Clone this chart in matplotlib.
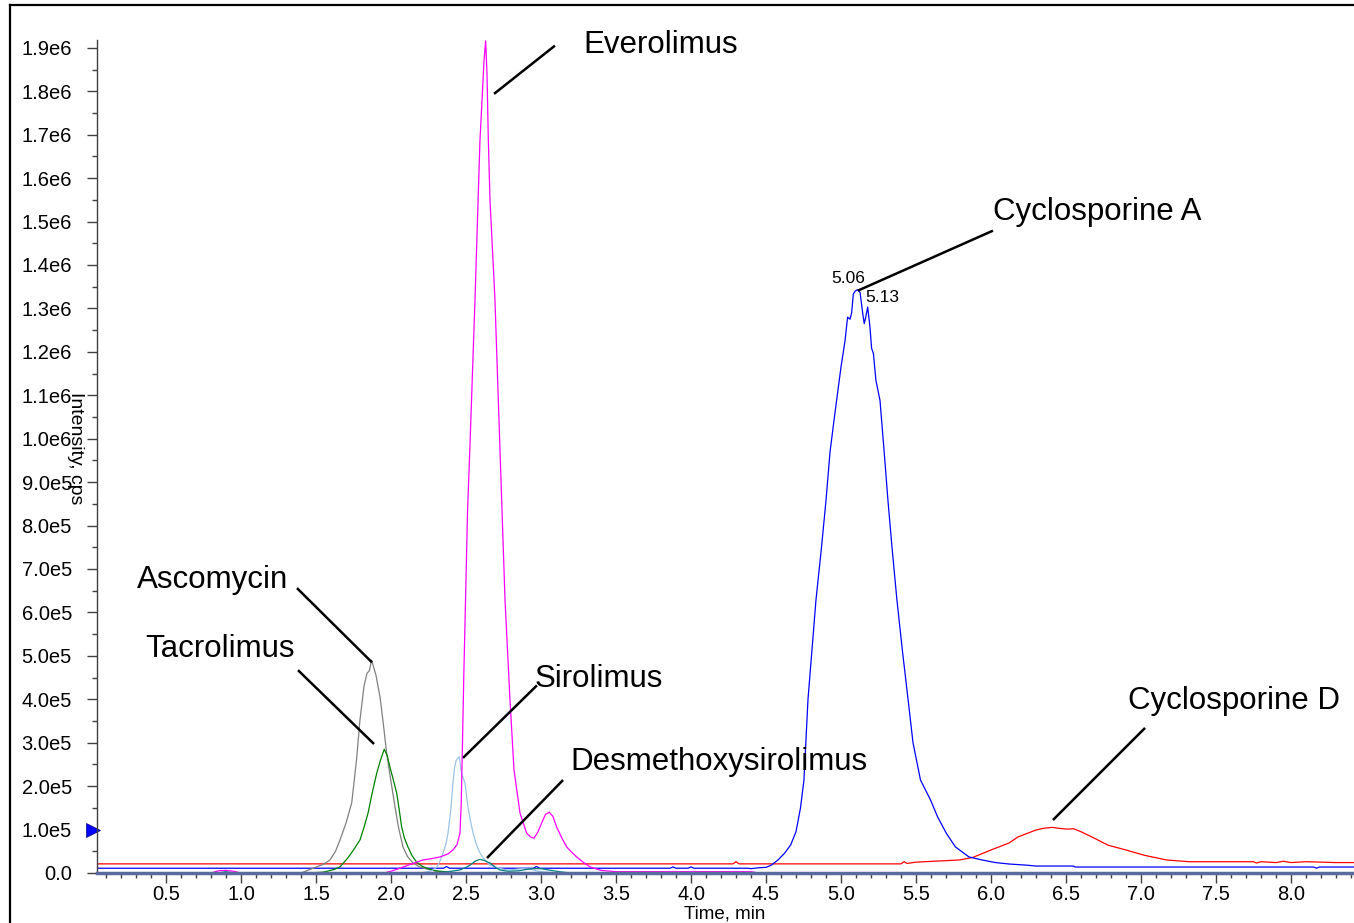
import matplotlib
matplotlib.use("Agg")
import matplotlib.pyplot as plt
from matplotlib.lines import Line2D
from matplotlib.ticker import FixedLocator, MultipleLocator

plt.rcParams['font.family'] = ['Liberation Sans', 'DejaVu Sans']

# ---------------- data ----------------
ascomycin_t = [0.04, 1.40, 1.48, 1.55, 1.593, 1.63, 1.66, 1.70, 1.738, 1.77, 1.793, 1.82, 1.84,
               1.855, 1.871, 1.90, 1.927, 1.95, 1.971, 2.0, 2.027, 2.05, 2.08, 2.11, 2.147,
               2.19, 2.24, 2.30, 2.40, 8.42]
ascomycin_i = [0, 0, 1.1e4, 2.0e4, 3.0e4, 5.0e4, 7.6e4, 1.15e5, 1.61e5, 2.6e5, 3.52e5, 4.3e5, 4.6e5,
               4.65e5, 4.9e5, 4.55e5, 4.05e5, 3.4e5, 2.76e5, 2.1e5, 1.52e5, 1.05e5, 0.6e5, 3.8e4, 2.3e4,
               1.4e4, 0.9e4, 4e3, 0, 0]

tacrolimus_t = [0.04, 1.45, 1.55, 1.62, 1.66, 1.713, 1.75, 1.793, 1.82, 1.847, 1.875, 1.905, 1.93,
                1.955, 1.975, 1.993, 2.015, 2.038, 2.055, 2.071, 2.09, 2.113, 2.14, 2.171, 2.205,
                2.24, 2.30, 2.45, 8.42]
tacrolimus_i = [0, 0, 2e3, 8e3, 1.4e4, 3.5e4, 5.3e4, 7.6e4, 1.05e5, 1.38e5, 1.85e5, 2.3e5, 2.6e5,
                2.85e5, 2.7e5, 2.44e5, 2.15e5, 1.84e5, 1.45e5, 1.06e5, 0.8e5, 0.6e5, 4e4, 2.5e4, 1.6e4,
                1.1e4, 5e3, 0, 0]

sirolimus_t = [0.04, 2.20, 2.27, 2.307, 2.33, 2.347, 2.365, 2.38, 2.40, 2.413, 2.425, 2.435, 2.455,
               2.47, 2.493, 2.513, 2.53, 2.547, 2.57, 2.593, 2.625, 2.66, 2.72, 2.773, 2.82, 2.87,
               2.93, 2.98, 3.1, 8.42]
sirolimus_i = [0, 0, 5e3, 1.4e4, 3e4, 4.6e4, 6.5e4, 9.2e4, 1.5e5, 2.07e5, 2.45e5, 2.6e5, 2.68e5,
               2.3e5, 2.07e5, 1.52e5, 1.2e5, 0.92e5, 0.65e5, 4.6e4, 3e4, 1.8e4, 1.1e4, 7e3, 8e3, 1e4,
               9e3, 4e3, 0, 0]

everolimus_t = [0.04, 0.80, 0.85, 0.90, 0.95, 1.00, 1.95, 2.0, 2.06, 2.13, 2.213, 2.27, 2.327, 2.38,
                2.413, 2.44, 2.46, 2.468, 2.476, 2.485, 2.497, 2.51, 2.527, 2.56, 2.593, 2.607, 2.62,
                2.631, 2.64, 2.649, 2.66, 2.693, 2.727, 2.76, 2.793, 2.82, 2.86, 2.904, 2.93, 2.953,
                2.98, 3.004, 3.03, 3.055, 3.08, 3.104, 3.14, 3.171, 3.21, 3.238, 3.28, 3.327, 3.40,
                3.50, 4.40, 4.45, 8.42]
everolimus_i = [0, 0, 5e3, 6e3, 4e3, 0, 0, 4e3, 1.1e4, 2e4, 3e4, 3.3e4, 3.7e4, 4.4e4,
                5.3e4, 6.5e4, 9.2e4, 1.6e5, 2.9e5, 4.5e5, 6.3e5, 8.3e5, 9.9e5, 1.32e6, 1.686e6, 1.78e6, 1.87e6,
                1.916e6, 1.84e6, 1.686e6, 1.55e6, 1.32e6, 9.7e5, 6.3e5, 4.0e5, 2.37e5, 1.38e5, 0.92e5, 0.83e5, 0.8e5,
                0.95e5, 1.15e5, 1.35e5, 1.4e5, 1.3e5, 1.06e5, 0.8e5, 0.6e5, 4.6e4, 3.7e4, 2.5e4, 1.4e4, 6e3,
                3e3, 3e3, 0, 0]

desmethoxy_t = [0.04, 0.85, 0.90, 0.95, 2.30, 2.38, 2.42, 2.46, 2.50, 2.527, 2.56, 2.593, 2.62, 2.66,
                2.70, 2.727, 2.78, 2.85, 2.90, 2.95, 3.0, 3.05, 3.12, 3.20, 8.42]
desmethoxy_i = [0, 0, 3e3, 0, 0, 3e3, 5e3, 7e3, 1.3e4, 1.8e4, 2.7e4, 3.15e4, 2.9e4, 2.3e4,
                1.2e4, 7e3, 4e3, 5e3, 8e3, 1e4, 1e4, 7e3, 3e3, 0, 0]

cyclosporineA_t = [0.04, 2.35, 2.37, 2.39, 2.95, 2.97, 2.99, 3.86, 3.88, 3.90, 3.98, 4.0, 4.02, 4.38,
                   4.40, 4.45, 4.50, 4.535, 4.58, 4.625, 4.665, 4.70, 4.73, 4.753, 4.78, 4.833, 4.87,
                   4.90, 4.927, 4.96, 5.0, 5.027, 5.044, 5.06, 5.071, 5.082, 5.095, 5.109, 5.127, 5.145,
                   5.155, 5.165, 5.178, 5.193, 5.204, 5.216, 5.233, 5.26, 5.287, 5.313, 5.34, 5.373,
                   5.41, 5.447, 5.48, 5.53, 5.597, 5.643, 5.703, 5.763, 5.853, 5.94, 6.03, 6.12, 6.24,
                   6.30, 6.55, 6.56, 8.15, 8.17, 8.19, 8.42]
cyclosporineA_i = [1.1e4, 1.1e4, 1.5e4, 1.1e4, 1.1e4, 1.5e4, 1.1e4, 1.1e4, 1.4e4, 1.1e4, 1.1e4, 1.4e4, 1.1e4, 1.1e4,
                   1.0e4, 1.2e4, 1.3e4, 1.8e4, 3e4, 4.6e4, 6.5e4, 0.95e5, 1.5e5, 2.14e5, 4.0e5, 6.28e5, 7.5e5,
                   8.58e5, 9.7e5, 1.06e6, 1.165e6, 1.226e6, 1.28e6, 1.275e6, 1.29e6, 1.333e6, 1.34e6, 1.343e6, 1.337e6, 1.288e6,
                   1.265e6, 1.28e6, 1.303e6, 1.257e6, 1.208e6, 1.196e6, 1.134e6, 1.088e6, 9.73e5, 8.58e5, 7.5e5, 6.28e5,
                   5.1e5, 4.0e5, 3.0e5, 2.14e5, 1.68e5, 1.3e5, 0.91e5, 0.6e5, 0.37e5, 0.3e5, 2.4e4, 2.07e4, 1.8e4,
                   1.6e4, 1.6e4, 1.38e4, 1.38e4, 1.1e4, 1.38e4, 1.38e4]

cyclosporineD_t = [0.04, 4.28, 4.30, 4.32, 5.40, 5.42, 5.44, 5.50, 5.79, 5.88, 6.0, 6.12, 6.18, 6.3,
                   6.35, 6.41, 6.45, 6.51, 6.55, 6.6, 6.69, 6.78, 6.9, 7.02, 7.17, 7.32, 7.5, 7.75, 7.77,
                   7.80, 7.9, 7.95, 8.0, 8.1, 8.3, 8.42]
cyclosporineD_i = [2.1e4, 2.1e4, 2.6e4, 2.1e4, 2.1e4, 2.6e4, 2.2e4, 2.5e4, 3.0e4, 3.6e4, 5.3e4, 6.9e4, 8.3e4, 9.9e4,
                   1.03e5, 1.05e5, 1.03e5, 1.01e5, 1.02e5, 0.95e5, 0.8e5, 0.64e5, 0.53e5, 0.41e5, 0.3e5, 2.6e4, 2.6e4, 2.6e4, 2.3e4,
                   2.6e4, 2.4e4, 2.7e4, 2.4e4, 2.6e4, 2.4e4, 2.4e4]

compound_names = ["Ascomycin", "Tacrolimus", "Sirolimus", "Everolimus",
                  "Desmethoxysirolimus", "Cyclosporine A", "Cyclosporine D"]

x_ticks = [0.5, 1.0, 1.5, 2.0, 2.5, 3.0, 3.5, 4.0, 4.5, 5.0, 5.5, 6.0, 6.5, 7.0, 7.5, 8.0]
x_tick_labels = ["0.5", "1.0", "1.5", "2.0", "2.5", "3.0", "3.5", "4.0", "4.5", "5.0",
                 "5.5", "6.0", "6.5", "7.0", "7.5", "8.0"]
y_ticks = [0, 1e5, 2e5, 3e5, 4e5, 5e5, 6e5, 7e5, 8e5, 9e5, 1.0e6, 1.1e6, 1.2e6, 1.3e6,
           1.4e6, 1.5e6, 1.6e6, 1.7e6, 1.8e6, 1.9e6]
y_tick_labels = ["0.0", "1.0e5", "2.0e5", "3.0e5", "4.0e5", "5.0e5", "6.0e5", "7.0e5", "8.0e5",
                 "9.0e5", "1.0e6", "1.1e6", "1.2e6", "1.3e6", "1.4e6", "1.5e6", "1.6e6", "1.7e6",
                 "1.8e6", "1.9e6"]

peak_rt_labels = ["5.06", "5.13"]

# ---------------- figure ----------------
W, H = 1354, 923
fig = plt.figure(figsize=(W / 100, H / 100), dpi=100)
ax = fig.add_axes([97 / W, 50 / H, (W - 97) / W, 833 / H])

traces = [
    (cyclosporineD_t, cyclosporineD_i, "#ff0000"),
    (cyclosporineA_t, cyclosporineA_i, "#0000ff"),
    (ascomycin_t, ascomycin_i, "#808080"),
    (tacrolimus_t, tacrolimus_i, "#008000"),
    (sirolimus_t, sirolimus_i, "#9cc3e6"),
    (everolimus_t, everolimus_i, "#ff00ff"),
    (desmethoxy_t, desmethoxy_i, "#008080"),
]
for t, i, c in traces:
    ax.plot(t, i, color=c, lw=0.9, solid_joinstyle="round")

ax.set_xlim(0.04, 8.42)
ax.set_ylim(0, 1.918e6)

ax.xaxis.set_major_locator(FixedLocator(x_ticks))
ax.set_xticklabels(x_tick_labels)
ax.xaxis.set_minor_locator(MultipleLocator(0.1))
ax.yaxis.set_major_locator(FixedLocator(y_ticks))
ax.set_yticklabels(y_tick_labels)
ax.yaxis.set_minor_locator(MultipleLocator(5e4))

ax.tick_params(axis="both", which="major", labelsize=14.5, length=7, width=1.0, color="#404040")
ax.tick_params(axis="both", which="minor", length=3.5, width=1.0, color="#404040")
ax.tick_params(axis="y", which="major", pad=11)
ax.tick_params(axis="x", which="major", pad=1.5)

for s in ("top", "right"):
    ax.spines[s].set_visible(False)
ax.spines["left"].set_color("#404040")
ax.spines["left"].set_linewidth(1.0)
ax.spines["bottom"].set_color("#5a6a9e")
ax.spines["bottom"].set_linewidth(2.5)
ax.patch.set_visible(False)

# axis titles
fig.text(725 / W, 1 - 914 / H, "Time, min", fontsize=13.5, ha="center", va="center")
fig.text(75 / W, 1 - 448 / H, "Intensity, cps", fontsize=14, rotation=270,
         ha="center", va="center")

# blue marker on the y axis
ax.plot([-0.003], [1.0e5], marker=">", ms=10, color="#0000ff", mec="#000080", mew=0.5,
        transform=ax.get_yaxis_transform(), clip_on=False)

# compound annotations: (text position, line start, line end)
annotations = [
    ("Everolimus", (3.28, 19.07e5), (3.093, 19.05e5), (2.687, 17.94e5)),
    ("Cyclosporine A", (6.013, 15.23e5), (6.013, 14.79e5), (5.113, 13.41e5)),
    ("Cyclosporine D", (6.913, 3.96e5), (7.027, 3.34e5), (6.413, 1.22e5)),
    ("Desmethoxysirolimus", (3.193, 2.55e5), (3.147, 2.14e5), (2.64, 0.345e5)),
    ("Sirolimus", (2.96, 4.46e5), (2.973, 4.32e5), (2.48, 2.65e5)),
    ("Ascomycin", (0.307, 6.74e5), (1.373, 6.56e5), (1.873, 4.85e5)),
    ("Tacrolimus", (0.36, 5.15e5), (1.38, 4.67e5), (1.887, 2.97e5)),
]
for name, (tx, ty), (x0, y0), (x1, y1) in annotations:
    ax.text(tx, ty, name, fontsize=22.5, ha="left", va="center")
    ax.plot([x0, x1], [y0, y1], color="black", lw=1.8, solid_capstyle="butt")

ax.text(4.933, 13.69e5, peak_rt_labels[0], fontsize=12.5, ha="left", va="center")
ax.text(5.16, 13.25e5, peak_rt_labels[1], fontsize=12.5, ha="left", va="center")

# outer frame (left and top border)
fig.add_artist(Line2D([10 / W, 10 / W], [-0.01, 1 - 5 / H], color="black", lw=1.6,
                      transform=fig.transFigure))
fig.add_artist(Line2D([10 / W, 1.01], [1 - 5 / H, 1 - 5 / H], color="black", lw=1.6,
                      transform=fig.transFigure))

fig.savefig("out.png", dpi=100)
